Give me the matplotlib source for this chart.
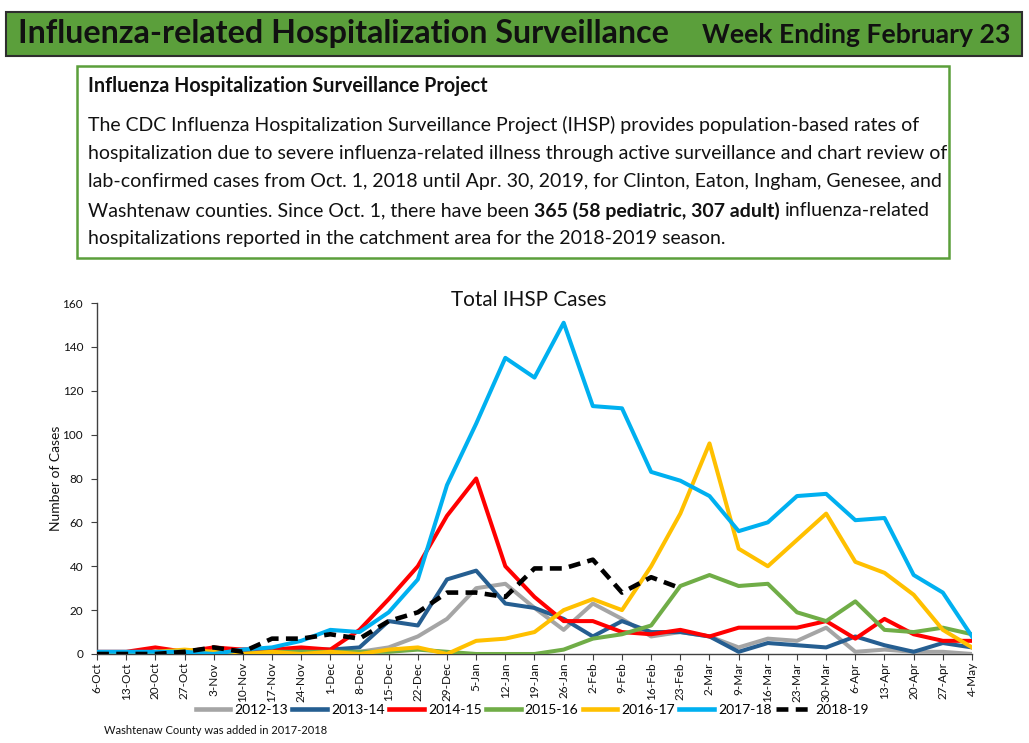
import matplotlib
matplotlib.use("Agg")
import matplotlib.pyplot as plt
from matplotlib.patches import Rectangle
from matplotlib.lines import Line2D

weeks = ['6-Oct', '13-Oct', '20-Oct', '27-Oct', '3-Nov', '10-Nov', '17-Nov', '24-Nov',
         '1-Dec', '8-Dec', '15-Dec', '22-Dec', '29-Dec', '5-Jan', '12-Jan', '19-Jan',
         '26-Jan', '2-Feb', '9-Feb', '16-Feb', '23-Feb', '2-Mar', '9-Mar', '16-Mar',
         '23-Mar', '30-Mar', '6-Apr', '13-Apr', '20-Apr', '27-Apr', '4-May']

season_labels = ['2012-13', '2013-14', '2014-15', '2015-16', '2016-17', '2017-18', '2018-19']

s2012_13 = [0, 0, 0, 1, 1, 1, 2, 1, 1, 1, 3, 8, 16, 30, 32, 21, 11, 23, 16, 8,
            10, 8, 3, 7, 6, 12, 1, 2, 1, 1, 0]
s2013_14 = [0, 0, 0, 1, 1, 2, 2, 2, 2, 3, 15, 13, 34, 38, 23, 21, 16, 8, 15, 10,
            10, 8, 1, 5, 4, 3, 8, 4, 1, 5, 3]
s2014_15 = [1, 1, 3, 1, 3, 2, 2, 3, 2, 11, 25, 40, 63, 80, 40, 26, 15, 15, 10, 9,
            11, 8, 12, 12, 12, 15, 7, 16, 9, 6, 6]
s2015_16 = [0, 0, 0, 0, 0, 0, 1, 1, 1, 1, 1, 2, 1, 0, 0, 0, 2, 7, 9, 13,
            31, 36, 31, 32, 19, 15, 24, 11, 10, 12, 9]
s2016_17 = [0, 0, 1, 2, 1, 0, 1, 0, 1, 0, 2, 3, 0, 6, 7, 10, 20, 25, 20, 40,
            64, 96, 48, 40, 52, 64, 42, 37, 27, 11, 3]
s2017_18 = [1, 1, 1, 1, 0, 2, 3, 6, 11, 10, 19, 34, 77, 105, 135, 126, 151, 113, 112, 83,
            79, 72, 56, 60, 72, 73, 61, 62, 36, 28, 8]
s2018_19 = [0, 0, 0, 1, 3, 1, 7, 7, 9, 7, 15, 19, 28, 28, 26, 39, 39, 43, 28, 35, 30]

yticks = [0, 20, 40, 60, 80, 100, 120, 140, 160]

series = [s2012_13, s2013_14, s2014_15, s2015_16, s2016_17, s2017_18, s2018_19]
colors = ['#a5a5a5', '#255e91', '#ff0000', '#70ad47', '#ffc000', '#00b0f0', '#000000']

W, H = 1029, 743
plt.rcParams['font.family'] = ['Lato', 'DejaVu Sans']
fig = plt.figure(figsize=(W / 100, H / 100), dpi=100)
fig.patch.set_facecolor('white')


def fx(x):
    return x / W


def fy(y):
    return 1 - y / H


# Header banner
fig.patches.append(Rectangle((fx(6), fy(56)), fx(1016), 44 / H, transform=fig.transFigure,
                             facecolor='#5b9f3b', edgecolor='#2e2e2e', lw=1.5, zorder=0))
# Description box
fig.patches.append(Rectangle((fx(77), fy(258)), fx(872), 192 / H, transform=fig.transFigure,
                             facecolor='white', edgecolor='#5b9f3b', lw=1.8, zorder=0))

fig.canvas.draw()
R = fig.canvas.get_renderer()


def width_of(t):
    return t.get_window_extent(renderer=R).width


def fit(t, target):
    w = width_of(t)
    t.set_fontsize(t.get_fontsize() * target / w)
    return t


t1 = fig.text(fx(18), fy(34), 'Influenza-related Hospitalization Surveillance', fontsize=22,
              fontweight='bold', va='center', ha='left', color='#111111')
fit(t1, 650)
t2 = fig.text(fx(1010), fy(35), 'Week Ending February 23', fontsize=17,
              fontweight='bold', va='center', ha='right', color='#111111')
fit(t2, 308)

th = fig.text(fx(88), fy(86), 'Influenza Hospitalization Surveillance Project', fontsize=13,
              fontweight='bold', va='center', ha='left', color='#111111')
fit(th, 399)

body_lines = [
    'The CDC Influenza Hospitalization Surveillance Project (IHSP) provides population-based rates of',
    'hospitalization due to severe influenza-related illness through active surveillance and chart review of',
    'lab-confirmed cases from Oct. 1, 2018 until Apr. 30, 2019, for Clinton, Eaton, Ingham, Genesee, and',
    None,
    'hospitalizations reported in the catchment area for the 2018-2019 season.',
]
line_y = [125, 153, 182, 211, 239]
probe = fig.text(0, 0, body_lines[0], fontsize=14)
fit(probe, 832)
bsize = probe.get_fontsize()
probe.remove()

for txt, yy in zip(body_lines, line_y):
    if txt is not None:
        fig.text(fx(88), fy(yy), txt, fontsize=bsize, va='center', ha='left', color='#111111')
    else:
        parts = [('Washtenaw counties. Since Oct. 1, there have been', 'normal'),
                 ('365 (58 pediatric, 307 adult)', 'bold'),
                 ('influenza-related', 'normal')]
        sp = fig.text(0, 0, 'a a', fontsize=bsize)
        sp2 = fig.text(0, 0, 'aa', fontsize=bsize)
        space = width_of(sp) - width_of(sp2)
        sp.remove()
        sp2.remove()
        x = 88
        for p, wgt in parts:
            tt = fig.text(fx(x), fy(yy), p, fontsize=bsize, fontweight=wgt, va='center',
                          ha='left', color='#111111')
            x += width_of(tt) + space

# Chart
ax = fig.add_axes([fx(97), fy(654), (972 - 97) / W, (654 - 303) / H])
xs = list(range(len(weeks)))
dash = (0, (2.6, 1.6))
for i, (vals, c, lab) in enumerate(zip(series, colors, season_labels)):
    if lab == '2018-19':
        ax.plot(xs[:len(vals)], vals, color=c, lw=3.3, linestyle=dash,
                label=lab, zorder=10)
    else:
        ax.plot(xs[:len(vals)], vals, color=c, lw=2.9, label=lab, zorder=3 + i)

ax.set_xlim(0, len(weeks) - 1)
ax.set_ylim(0, 160)
ax.set_yticks(yticks)
ax.set_yticklabels([str(v) for v in yticks], fontsize=8.5)
ax.set_xticks(xs)
ax.set_xticklabels(weeks, rotation=90, fontsize=8.5)
for s in ['top', 'right']:
    ax.spines[s].set_visible(False)
for s in ['left', 'bottom']:
    ax.spines[s].set_color('#404040')
    ax.spines[s].set_linewidth(1.0)
ax.tick_params(axis='both', colors='#404040', length=4, width=0.8, labelcolor='#111111')
ax.tick_params(axis='y', pad=6)
ax.tick_params(axis='x', pad=2)
ax.set_ylabel('Number of Cases', fontsize=10, color='#111111', labelpad=0)

tt = fig.text(fx(529), fy(300), 'Total IHSP Cases', fontsize=14, color='#111111',
              ha='center', va='center')
fit(tt, 156)

handles = []
for c, lab in zip(colors, season_labels):
    if lab == '2018-19':
        handles.append(Line2D([], [], color=c, lw=3.3, linestyle=dash))
    else:
        handles.append(Line2D([], [], color=c, lw=3.3))
fig.legend(handles, season_labels, loc='center', bbox_to_anchor=(fx(532), fy(710)),
           ncol=7, frameon=False, fontsize=10, handlelength=2.5, handletextpad=0.3,
           columnspacing=0.3, borderpad=0)

fig.text(fx(104), fy(731), 'Washtenaw County was added in 2017-2018', fontsize=8,
         va='center', ha='left', color='#111111')

fig.savefig('out.png', dpi=100, facecolor='white')
